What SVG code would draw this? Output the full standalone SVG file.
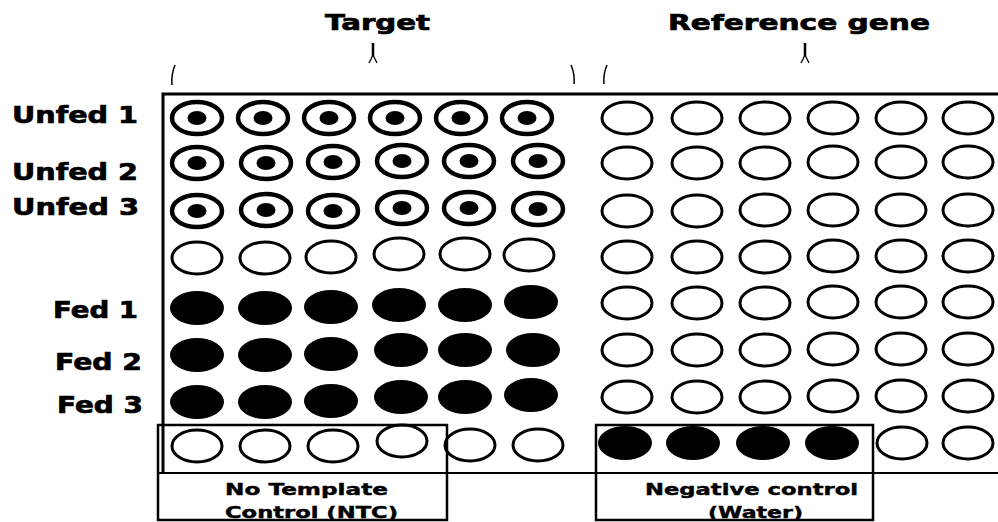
<svg xmlns="http://www.w3.org/2000/svg" width="998" height="522" viewBox="0 0 998 522">
<defs>
<style>
.lbl{font-family:"DejaVu Sans","Liberation Sans",sans-serif;font-weight:bold;fill:#000;stroke:#000;stroke-width:0.7}
.side{font-size:23px}
.head{font-size:21px}
.small{font-size:15px;stroke-width:0.4}
.o{fill:#fff;stroke:#000;stroke-width:3}
.r{fill:#fff;stroke:#000;stroke-width:4.5}
.f{fill:#000}
.line{fill:none;stroke:#000}
</style>
<g id="open"><ellipse class="o" rx="25" ry="16"/></g>
<g id="ring"><ellipse class="r" rx="25" ry="16"/><ellipse class="f" rx="9.5" ry="7"/></g>
<g id="fill"><ellipse class="f" rx="27" ry="17"/></g>
</defs>
<rect width="998" height="522" fill="#fff"/>

<g id="headers">
<text class="lbl head" x="325" y="30" textLength="105" lengthAdjust="spacingAndGlyphs">Target</text>
<text class="lbl head" x="668" y="30" textLength="262" lengthAdjust="spacingAndGlyphs">Reference gene</text>
</g>

<g id="connectors">
<path class="line" stroke-width="1.5" d="M175,65 Q171,75 172,85"/>
<path class="line" stroke-width="2.5" d="M373,43 L373,56"/>
<path class="line" stroke-width="1.3" d="M373,55 L369,63 M373,55 L377,63"/>
<path class="line" stroke-width="1.5" d="M571,65 Q575,74 574,84"/>
<path class="line" stroke-width="1.5" d="M607,65 Q603,74 604,84"/>
<path class="line" stroke-width="2.5" d="M805,43 L805,56"/>
<path class="line" stroke-width="1.3" d="M805,55 L801,63 M805,55 L809,63"/>
</g>

<g id="plate">
<path class="line" stroke-width="3" d="M163,473 L163,94 L998,94"/>
<path class="line" stroke-width="2" d="M157,473 L998,473"/>
</g>

<g id="row-labels">
<text class="lbl side" x="12" y="123" textLength="126" lengthAdjust="spacingAndGlyphs">Unfed 1</text>
<text class="lbl side" x="12" y="180" textLength="126" lengthAdjust="spacingAndGlyphs">Unfed 2</text>
<text class="lbl side" x="12" y="215" textLength="127" lengthAdjust="spacingAndGlyphs">Unfed 3</text>
<text class="lbl side" x="53" y="318" textLength="85" lengthAdjust="spacingAndGlyphs">Fed 1</text>
<text class="lbl side" x="55" y="370" textLength="87" lengthAdjust="spacingAndGlyphs">Fed 2</text>
<text class="lbl side" x="57" y="413" textLength="86" lengthAdjust="spacingAndGlyphs">Fed 3</text>
</g>

<g id="target-unfed1">
<use href="#ring" x="197" y="118"/><use href="#ring" x="263" y="118"/><use href="#ring" x="329" y="118"/>
<use href="#ring" x="395" y="118"/><use href="#ring" x="461" y="118"/><use href="#ring" x="527" y="118"/>
</g>
<g id="target-unfed2">
<use href="#ring" x="197" y="163"/><use href="#ring" x="266" y="163"/><use href="#ring" x="333" y="162"/>
<use href="#ring" x="402" y="161"/><use href="#ring" x="469" y="161"/><use href="#ring" x="538" y="161"/>
</g>
<g id="target-unfed3">
<use href="#ring" x="197" y="211"/><use href="#ring" x="266" y="210"/><use href="#ring" x="333" y="211"/>
<use href="#ring" x="402" y="208"/><use href="#ring" x="469" y="208"/><use href="#ring" x="538" y="209"/>
</g>
<g id="target-empty">
<use href="#open" x="197" y="258"/><use href="#open" x="265" y="258"/><use href="#open" x="331" y="257"/>
<use href="#open" x="399" y="254"/><use href="#open" x="465" y="254"/><use href="#open" x="529" y="255"/>
</g>
<g id="target-fed1">
<use href="#fill" x="197" y="308"/><use href="#fill" x="265" y="308"/><use href="#fill" x="331" y="307"/>
<use href="#fill" x="399" y="305"/><use href="#fill" x="465" y="305"/><use href="#fill" x="531" y="302"/>
</g>
<g id="target-fed2">
<use href="#fill" x="197" y="355"/><use href="#fill" x="265" y="355"/><use href="#fill" x="331" y="354"/>
<use href="#fill" x="401" y="350"/><use href="#fill" x="465" y="350"/><use href="#fill" x="533" y="350"/>
</g>
<g id="target-fed3">
<use href="#fill" x="197" y="402"/><use href="#fill" x="265" y="402"/><use href="#fill" x="331" y="401"/>
<use href="#fill" x="401" y="397"/><use href="#fill" x="465" y="397"/><use href="#fill" x="531" y="395"/>
</g>
<g id="target-bottom">
<use href="#open" x="197" y="446"/><use href="#open" x="265" y="446"/><use href="#open" x="333" y="446"/>
<use href="#open" x="402" y="441"/><use href="#open" x="470" y="445"/><use href="#open" x="538" y="445"/>
</g>

<g id="reference-wells">
<use href="#open" x="627" y="118"/><use href="#open" x="697" y="118"/><use href="#open" x="765" y="118"/><use href="#open" x="833" y="118"/><use href="#open" x="901" y="118"/><use href="#open" x="968" y="118"/>
<use href="#open" x="627" y="163"/><use href="#open" x="697" y="163"/><use href="#open" x="765" y="163"/><use href="#open" x="833" y="162"/><use href="#open" x="901" y="162"/><use href="#open" x="968" y="162"/>
<use href="#open" x="627" y="211"/><use href="#open" x="697" y="211"/><use href="#open" x="765" y="210"/><use href="#open" x="833" y="210"/><use href="#open" x="901" y="210"/><use href="#open" x="968" y="210"/>
<use href="#open" x="627" y="257"/><use href="#open" x="697" y="257"/><use href="#open" x="765" y="257"/><use href="#open" x="833" y="256"/><use href="#open" x="901" y="256"/><use href="#open" x="968" y="256"/>
<use href="#open" x="627" y="303"/><use href="#open" x="697" y="303"/><use href="#open" x="765" y="303"/><use href="#open" x="833" y="302"/><use href="#open" x="901" y="302"/><use href="#open" x="968" y="302"/>
<use href="#open" x="627" y="350"/><use href="#open" x="697" y="350"/><use href="#open" x="765" y="350"/><use href="#open" x="833" y="349"/><use href="#open" x="901" y="349"/><use href="#open" x="968" y="349"/>
<use href="#open" x="627" y="397"/><use href="#open" x="697" y="397"/><use href="#open" x="765" y="397"/><use href="#open" x="833" y="396"/><use href="#open" x="901" y="396"/><use href="#open" x="968" y="396"/>
<use href="#open" x="902" y="443"/><use href="#open" x="968" y="443"/>
</g>

<g id="ntc-box">
<rect class="line" stroke-width="2.5" x="158" y="425" width="289" height="95"/>
<line class="line" stroke-width="2" x1="158" y1="473" x2="447" y2="473"/>
<text class="lbl small" x="225" y="495" textLength="163" lengthAdjust="spacingAndGlyphs">No Template</text>
<text class="lbl small" x="225" y="518" textLength="173" lengthAdjust="spacingAndGlyphs">Control (NTC)</text>
</g>

<g id="negative-box">
<rect class="line" stroke-width="2.5" x="596" y="425" width="277" height="95"/>
<use href="#fill" x="625" y="443"/><use href="#fill" x="693" y="443"/><use href="#fill" x="763" y="443"/><use href="#fill" x="832" y="443"/>
<text class="lbl small" x="645" y="495" textLength="213" lengthAdjust="spacingAndGlyphs">Negative control</text>
<text class="lbl small" x="708" y="518" textLength="95" lengthAdjust="spacingAndGlyphs">(Water)</text>
</g>
</svg>
